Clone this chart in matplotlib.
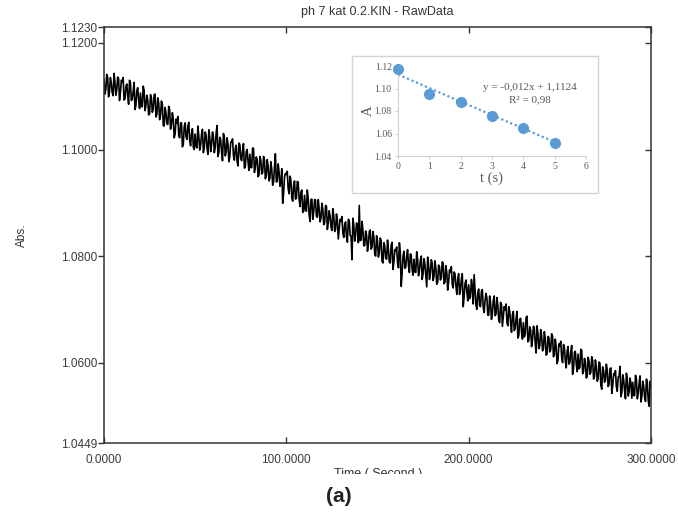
import numpy as np
import matplotlib
matplotlib.use("Agg")
import matplotlib.pyplot as plt
from matplotlib.patches import Rectangle
from matplotlib.transforms import Bbox, TransformedBbox

plt.rcParams['font.family'] = ['Liberation Sans', 'DejaVu Sans']

# ---------------- data ----------------
# absorbance read at whole seconds (0 ... 300 s)
abs_whole_s = [
    1.1132, 1.1113, 1.1135, 1.1108, 1.1125, 1.1101, 1.1127, 1.1112, 1.1133, 1.1106,
    1.1127, 1.1093, 1.1118, 1.1101, 1.1130, 1.1092, 1.1109, 1.1075, 1.1111, 1.1093,
    1.1106, 1.1080, 1.1111, 1.1083, 1.1093, 1.1067, 1.1097, 1.1076, 1.1104, 1.1066,
    1.1087, 1.1064, 1.1085, 1.1044, 1.1069, 1.1047, 1.1075, 1.1047, 1.1058, 1.1029,
    1.1050, 1.1026, 1.1050, 1.1005, 1.1043, 1.1024, 1.1044, 1.1016, 1.1030, 1.1004,
    1.1029, 1.1003, 1.1025, 1.1008, 1.1038, 1.1004, 1.1027, 1.0991, 1.1023, 1.1009,
    1.1025, 1.1004, 1.1045, 1.0995, 1.1018, 1.0979, 1.1023, 1.0995, 1.1010, 1.0986,
    1.1014, 1.0988, 1.1002, 1.0977, 1.1012, 1.0983, 1.0998, 1.0965, 1.0996, 1.0977,
    1.0991, 1.0966, 1.1002, 1.0968, 1.0981, 1.0952, 1.0980, 1.0956, 1.0980, 1.0951,
    1.0969, 1.0946, 1.0963, 1.0939, 1.0992, 1.0940, 1.0959, 1.0938, 1.0899, 1.0948,
    1.0953, 1.0927, 1.0950, 1.0909, 1.0933, 1.0907, 1.0940, 1.0908, 1.0920, 1.0882,
    1.0914, 1.0884, 1.0907, 1.0865, 1.0907, 1.0883, 1.0905, 1.0873, 1.0889, 1.0871,
    1.0888, 1.0862, 1.0893, 1.0863, 1.0875, 1.0848, 1.0876, 1.0850, 1.0867, 1.0850,
    1.0865, 1.0843, 1.0859, 1.0836, 1.0869, 1.0839, 1.0793, 1.0858, 1.0840, 1.0860,
    1.0895, 1.0830, 1.0848, 1.0820, 1.0840, 1.0821, 1.0849, 1.0817, 1.0836, 1.0800,
    1.0828, 1.0807, 1.0829, 1.0787, 1.0818, 1.0794, 1.0812, 1.0787, 1.0826, 1.0789,
    1.0809, 1.0787, 1.0825, 1.0743, 1.0800, 1.0777, 1.0800, 1.0782, 1.0804, 1.0774,
    1.0794, 1.0769, 1.0794, 1.0773, 1.0800, 1.0767, 1.0784, 1.0742, 1.0785, 1.0767,
    1.0787, 1.0762, 1.0778, 1.0751, 1.0780, 1.0760, 1.0787, 1.0751, 1.0769, 1.0752,
    1.0770, 1.0746, 1.0770, 1.0744, 1.0756, 1.0728, 1.0757, 1.0705, 1.0748, 1.0733,
    1.0746, 1.0724, 1.0744, 1.0765, 1.0708, 1.0731, 1.0707, 1.0734, 1.0703, 1.0717,
    1.0721, 1.0689, 1.0713, 1.0692, 1.0725, 1.0691, 1.0707, 1.0675, 1.0709, 1.0686,
    1.0699, 1.0675, 1.0705, 1.0675, 1.0690, 1.0660, 1.0682, 1.0646, 1.0681, 1.0657,
    1.0675, 1.0653, 1.0687, 1.0642, 1.0661, 1.0642, 1.0666, 1.0618, 1.0654, 1.0631,
    1.0651, 1.0626, 1.0645, 1.0616, 1.0647, 1.0624, 1.0650, 1.0615, 1.0630, 1.0606,
    1.0631, 1.0609, 1.0634, 1.0603, 1.0621, 1.0597, 1.0620, 1.0578, 1.0619, 1.0597,
    1.0616, 1.0591, 1.0623, 1.0583, 1.0602, 1.0574, 1.0603, 1.0582, 1.0604, 1.0574,
    1.0593, 1.0569, 1.0599, 1.0550, 1.0586, 1.0567, 1.0586, 1.0559, 1.0590, 1.0557,
    1.0576, 1.0555, 1.0573, 1.0593, 1.0544, 1.0568, 1.0532, 1.0569, 1.0545, 1.0561,
    1.0563, 1.0538, 1.0569, 1.0542, 1.0575, 1.0537, 1.0556, 1.0527, 1.0561, 1.0518,
    1.0552,
]
# absorbance read at half seconds (0.5 ... 299.5 s)
abs_half_s = [
    1.1104, 1.1141, 1.1099, 1.1135, 1.1107, 1.1143, 1.1102, 1.1136, 1.1092, 1.1130,
    1.1135, 1.1095, 1.1123, 1.1085, 1.1125, 1.1094, 1.1126, 1.1082, 1.1116, 1.1077,
    1.1082, 1.1119, 1.1073, 1.1102, 1.1065, 1.1103, 1.1070, 1.1103, 1.1061, 1.1097,
    1.1056, 1.1091, 1.1045, 1.1079, 1.1048, 1.1081, 1.1038, 1.1069, 1.1022, 1.1057,
    1.1062, 1.1022, 1.1050, 1.1010, 1.1050, 1.1019, 1.1051, 1.1007, 1.1039, 1.1000,
    1.1006, 1.1044, 1.0999, 1.1029, 1.0994, 1.1033, 1.1002, 1.1037, 1.0996, 1.1033,
    1.0994, 1.1031, 1.0987, 1.1023, 1.0995, 1.1030, 1.0988, 1.1022, 1.0977, 1.1014,
    1.1020, 1.0980, 1.1008, 1.0969, 1.1009, 1.0979, 1.1011, 1.0967, 1.1000, 1.0961,
    1.0966, 1.1003, 1.0957, 1.0986, 1.0949, 1.0987, 1.0954, 1.0987, 1.0945, 1.0981,
    1.0941, 1.0977, 1.0933, 1.0968, 1.0939, 1.0973, 1.0931, 1.0964, 1.0918, 1.0955,
    1.0959, 1.0917, 1.0943, 1.0903, 1.0941, 1.0908, 1.0939, 1.0893, 1.0924, 1.0884,
    1.0888, 1.0924, 1.0878, 1.0906, 1.0869, 1.0906, 1.0874, 1.0906, 1.0864, 1.0899,
    1.0859, 1.0895, 1.0850, 1.0885, 1.0855, 1.0889, 1.0846, 1.0879, 1.0832, 1.0869,
    1.0874, 1.0835, 1.0864, 1.0826, 1.0867, 1.0837, 1.0871, 1.0828, 1.0862, 1.0825,
    1.0829, 1.0865, 1.0819, 1.0847, 1.0809, 1.0846, 1.0813, 1.0846, 1.0803, 1.0838,
    1.0798, 1.0834, 1.0790, 1.0825, 1.0796, 1.0830, 1.0788, 1.0821, 1.0775, 1.0812,
    1.0817, 1.0778, 1.0807, 1.0768, 1.0809, 1.0779, 1.0812, 1.0769, 1.0802, 1.0764,
    1.0770, 1.0808, 1.0763, 1.0792, 1.0756, 1.0795, 1.0764, 1.0798, 1.0756, 1.0793,
    1.0754, 1.0791, 1.0747, 1.0783, 1.0755, 1.0789, 1.0748, 1.0782, 1.0736, 1.0774,
    1.0780, 1.0740, 1.0767, 1.0728, 1.0767, 1.0736, 1.0767, 1.0723, 1.0755, 1.0716,
    1.0720, 1.0756, 1.0710, 1.0738, 1.0700, 1.0738, 1.0705, 1.0737, 1.0694, 1.0730,
    1.0689, 1.0725, 1.0681, 1.0717, 1.0688, 1.0722, 1.0680, 1.0713, 1.0668, 1.0705,
    1.0710, 1.0669, 1.0697, 1.0657, 1.0696, 1.0664, 1.0696, 1.0651, 1.0683, 1.0644,
    1.0648, 1.0685, 1.0639, 1.0667, 1.0630, 1.0668, 1.0636, 1.0669, 1.0626, 1.0662,
    1.0622, 1.0658, 1.0614, 1.0649, 1.0620, 1.0654, 1.0611, 1.0644, 1.0598, 1.0635,
    1.0640, 1.0600, 1.0629, 1.0590, 1.0630, 1.0600, 1.0632, 1.0588, 1.0621, 1.0583,
    1.0588, 1.0625, 1.0579, 1.0608, 1.0571, 1.0610, 1.0578, 1.0611, 1.0569, 1.0605,
    1.0565, 1.0601, 1.0557, 1.0592, 1.0563, 1.0597, 1.0555, 1.0588, 1.0542, 1.0579,
    1.0585, 1.0546, 1.0574, 1.0536, 1.0577, 1.0547, 1.0580, 1.0537, 1.0571, 1.0533,
    1.0538, 1.0576, 1.0532, 1.0562, 1.0526, 1.0565, 1.0535, 1.0569, 1.0528, 1.0565,
]
time_start, time_end = 0.0, 300.0
t_whole = np.linspace(time_start, time_end, len(abs_whole_s))
t_half = np.linspace(time_start + 0.5, time_end - 0.5, len(abs_half_s))
time_s = np.concatenate([t_whole, t_half])
abs_all = np.concatenate([abs_whole_s, abs_half_s])
order = np.argsort(time_s, kind='stable')
time_s, abs_all = time_s[order], abs_all[order]

y_ticks = [1.0449, 1.0600, 1.0800, 1.1000, 1.1200, 1.1230]
x_ticks = [0.0, 100.0, 200.0, 300.0]

# inset data
inset_t = [0, 1, 2, 3, 4, 5]
inset_A = [1.117, 1.095, 1.088, 1.076, 1.065, 1.052]
trend_slope = -0.012
trend_intercept = 1.1124
inset_xticks = [0, 1, 2, 3, 4, 5, 6]
inset_yticks = [1.04, 1.06, 1.08, 1.10, 1.12]

# ---------------- figure ----------------
W, H = 678, 515
fig = plt.figure(figsize=(W / 100, H / 100), dpi=100)
fig.patch.set_facecolor('white')

def fx(px):
    return px / W

def fy(py):
    return 1 - py / H

ax = fig.add_axes([fx(104), fy(443), fx(651) - fx(104), fy(27) - fy(443)])
ax.plot(time_s, abs_all, color='black', lw=1.2)
ax.set_xlim(time_start, time_end)
ax.set_ylim(y_ticks[0], y_ticks[-1])

ax.set_yticks(y_ticks)
ax.set_yticklabels([f"{v:.4f}" for v in y_ticks])
ax.set_xticks(x_ticks)
ax.set_xticklabels([f"{v:.4f}" for v in x_ticks])

spine_col = '#333333'
for s in ax.spines.values():
    s.set_color(spine_col)
    s.set_linewidth(1.1)

tick_fs = 8.5
ax.tick_params(axis='y', which='both', direction='out', length=4, width=1.0,
               color=spine_col, labelsize=tick_fs, labelcolor='#3a3a3a', pad=1.0,
               right=True)
ax.tick_params(axis='x', which='both', direction='in', length=4, width=1.0,
               color=spine_col, labelsize=tick_fs, labelcolor='#3a3a3a', pad=8,
               top=True)
for t in ax.yaxis.get_major_ticks():
    t.tick2line.set_marker(matplotlib.lines.TICKLEFT)
    t.tick2line.set_markersize(4)

ax.set_title("ph 7 kat 0.2.KIN - RawData", fontsize=9, color='#333333', pad=9)
fig.text(fx(22), fy(235), "Abs.", rotation=90, fontsize=8.5, color='#333333',
         ha='center', va='center')

# clipped x label
xl = fig.text(fx(378), fy(477), "Time ( Second )", fontsize=9, color='#333333',
              ha='center', va='baseline')
clip = TransformedBbox(Bbox([[0, fy(474)], [1, 1]]), fig.transFigure)
xl.set_clip_box(clip)
xl.set_clip_on(True)

fig.text(fx(339), fy(497), "(a)", fontsize=15, fontweight='bold', color='#222222',
         ha='center', va='center')

# ---------------- inset ----------------
box = Rectangle((fx(352), fy(193)), fx(598) - fx(352), fy(56) - fy(193),
                transform=fig.transFigure, facecolor='white', edgecolor='#d4d4d4',
                lw=1.0, zorder=5)
fig.patches.append(box)

blue = '#5b9bd5'
serif = ['Liberation Serif', 'DejaVu Serif']
axi = fig.add_axes([fx(398), fy(156), fx(586) - fx(398), fy(66) - fy(156)], zorder=6)
axi.set_facecolor('white')
trend_x = np.array([inset_t[0], inset_t[-1]], dtype=float)
axi.plot(trend_x, trend_slope * trend_x + trend_intercept, ls=(0, (1, 1.2)),
         color=blue, lw=1.6)
axi.plot(inset_t, inset_A, 'o', color=blue, ms=7, mec=blue, clip_on=False, zorder=4)
axi.set_xlim(0, 6)
axi.set_ylim(1.04, 1.12)
axi.set_xticks(inset_xticks)
axi.set_yticks(inset_yticks)
axi.set_yticklabels([f"{v:.2f}" for v in inset_yticks])
for side in ['top', 'right']:
    axi.spines[side].set_visible(False)
for side in ['left', 'bottom']:
    axi.spines[side].set_color('#d0d0d0')
    axi.spines[side].set_linewidth(0.8)
axi.tick_params(axis='both', labelsize=7, labelcolor='#595959', color='#d0d0d0',
                length=2.5, width=0.8, pad=2)
for lab in axi.get_xticklabels() + axi.get_yticklabels():
    lab.set_family(serif)
axi.set_xlabel("t (s)", fontsize=10.5, color='#595959', labelpad=0, family=serif)
axi.set_ylabel("A", fontsize=10.5, color='#595959', labelpad=0, family=serif)
axi.text(0.70, 0.76, "y = -0,012x + 1,1124", transform=axi.transAxes,
         fontsize=8, color='#595959', ha='center', va='center', family=serif)
axi.text(0.70, 0.62, "R² = 0,98", transform=axi.transAxes,
         fontsize=8, color='#595959', ha='center', va='center', family=serif)

fig.savefig("out.png", dpi=100, facecolor='white')
